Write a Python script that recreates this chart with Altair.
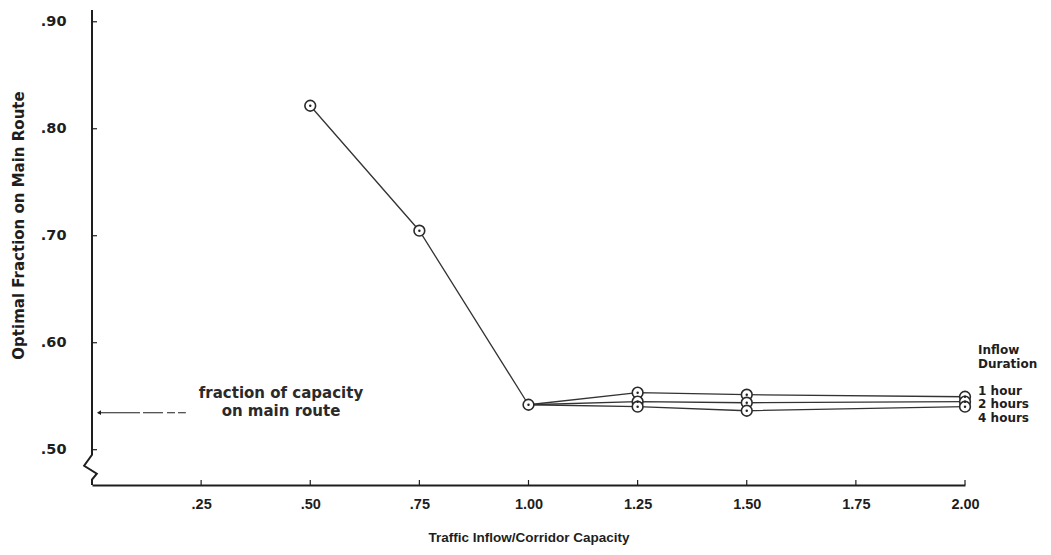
import altair as alt
import pandas as pd

# ---------------- data ----------------
x_common = [0.50, 0.75, 1.00]
y_common = [0.8215, 0.7047, 0.542]

x_dur = [1.00, 1.25, 1.50, 2.00]
hour1 = [0.542, 0.5533, 0.5514, 0.5495]
hour2 = [0.542, 0.5449, 0.5439, 0.5449]
hour4 = [0.542, 0.5402, 0.5364, 0.5402]
series_labels = ["1 hour", "2 hours", "4 hours"]

y_ticks = [0.50, 0.60, 0.70, 0.80, 0.90]
x_ticks = [0.25, 0.50, 0.75, 1.00, 1.25, 1.50, 1.75, 2.00]

capacity_fraction = 0.5346  # arrow "fraction of capacity on main route"

# ---------------- tables ----------------
rows = []
for xv, yv in zip(x_common, y_common):
    rows.append({"series": "common", "x": xv, "y": yv})
for name, ys in zip(series_labels, [hour1, hour2, hour4]):
    for xv, yv in zip(x_dur, ys):
        rows.append({"series": name, "x": xv, "y": yv})
lines_df = pd.DataFrame(rows)
points_df = lines_df.drop_duplicates(subset=["x", "y"]).reset_index(drop=True)

# y-axis line with the break (zig-zag) near the bottom
axis_df = pd.DataFrame({
    "i": [0, 1, 2, 3, 4, 5],
    "x": [0.0, 0.0, -0.018, 0.011, 0.0, 0.0],
    "y": [0.911, 0.4953, 0.485, 0.4776, 0.472, 0.467],
})
ytick_df = pd.DataFrame({"y": y_ticks})
xtick_df = pd.DataFrame({"x": x_ticks})

arrow_df = pd.DataFrame({"x": [0.0138], "x2": [0.215], "y": [capacity_fraction]})
head_df = pd.DataFrame({"x": [0.016], "y": [capacity_fraction]})

note_df = pd.DataFrame({
    "x": [0.433, 0.433],
    "y": [0.5530, 0.5362],
    "t": ["fraction of capacity", "on main route"],
})
legend_df = pd.DataFrame({
    "x": [2.030] * 5,
    "y": [0.5928, 0.5803, 0.5551, 0.5430, 0.5300],
    "t": ["Inflow", "Duration"] + series_labels,
})

INK = "#1e1e1e"
WIDE = "DejaVu Sans"
NARROW = "'Liberation Sans Narrow', 'Liberation Sans', sans-serif"

xscale = alt.Scale(domain=[0, 2.0], nice=False, zero=False)
yscale = alt.Scale(domain=[0.467, 0.911], nice=False, zero=False)

X = alt.X("x:Q", scale=xscale, axis=alt.Axis(
    values=x_ticks,
    labelExpr="datum.value < 1 ? substring(format(datum.value, '.2f'), 1) : format(datum.value, '.2f')",
    title="Traffic Inflow/Corridor Capacity",
    ticks=False, tickSize=0, grid=False,
    domainColor=INK, domainWidth=2,
    labelFont=NARROW, labelFontSize=14.5, labelFontWeight="bold", labelColor=INK,
    labelPadding=12, labelFlush=False, labelOverlap=False,
    titleFont=NARROW, titleFontSize=13.5, titleFontWeight="bold", titleColor=INK,
    titleY=45, titleBaseline="top",
))
Y = alt.Y("y:Q", scale=yscale, axis=alt.Axis(
    values=y_ticks,
    labelExpr="substring(format(datum.value, '.2f'), 1)",
    title="Optimal Fraction on Main Route",
    domain=False, ticks=False, tickSize=0, grid=False,
    labelFont=WIDE, labelFontSize=14.5, labelFontWeight="bold", labelColor=INK,
    labelPadding=26, labelFlush=False, labelOverlap=False,
    titleFont=WIDE, titleFontSize=15, titleFontWeight="bold", titleColor=INK,
    titleX=-74, titleY=215, titleAlign="center", titleBaseline="middle",
))

def xq(f="x"):
    return alt.X(f + ":Q", scale=xscale)

def yq(f="y"):
    return alt.Y(f + ":Q", scale=yscale)

lines = alt.Chart(lines_df).mark_line(color="#333", strokeWidth=1.3).encode(
    x=X, y=Y, detail="series:N", order="x:Q"
)

yaxis_line = alt.Chart(axis_df).mark_line(color=INK, strokeWidth=2).encode(
    x=xq(), y=yq(), order="i:Q"
)
yticks = alt.Chart(ytick_df).mark_rule(color=INK, strokeWidth=1.2).encode(
    y=yq(), x=alt.value(0), x2=alt.value(5)
)
xticks = alt.Chart(xtick_df).mark_rule(color=INK, strokeWidth=1.2).encode(
    x=xq(), y=alt.value(475), y2=alt.value(470)
)

arrow = alt.Chart(arrow_df).mark_rule(
    color=INK, strokeWidth=1.1, strokeDash=[42, 3, 20, 4, 8, 3, 10, 100]
).encode(x=xq(), x2="x2:Q", y=yq())
head = alt.Chart(head_df).mark_point(
    shape="triangle-left", filled=True, color=INK, size=22, opacity=1
).encode(x=xq(), y=yq())

circles = alt.Chart(points_df).mark_point(
    shape="circle", size=115, fill="white", fillOpacity=1,
    stroke="#2a2a2a", strokeWidth=1.6, opacity=1
).encode(x=xq(), y=yq())
dots = alt.Chart(points_df).mark_point(
    shape="circle", size=6, filled=True, color="#222", opacity=1
).encode(x=xq(), y=yq())

notes = alt.Chart(note_df).mark_text(
    font=WIDE, fontSize=15, fontWeight="bold", color="#2a2a2a",
    align="center", baseline="middle"
).encode(x=xq(), y=yq(), text="t:N")
legend_txt = alt.Chart(legend_df).mark_text(
    font=WIDE, fontSize=12, fontWeight="bold", color=INK,
    align="left", baseline="middle"
).encode(x=xq(), y=yq(), text="t:N")

chart = alt.layer(
    lines, arrow, head, yaxis_line, yticks, xticks, circles, dots, notes, legend_txt
).properties(
    width=873, height=475,
    padding={"left": 84, "top": 2, "right": 78, "bottom": 60},
    autosize=alt.AutoSizeParams(type="none"),
).configure_view(stroke=None)

chart.save("out.html", embed_options={"renderer": "svg", "actions": False})
